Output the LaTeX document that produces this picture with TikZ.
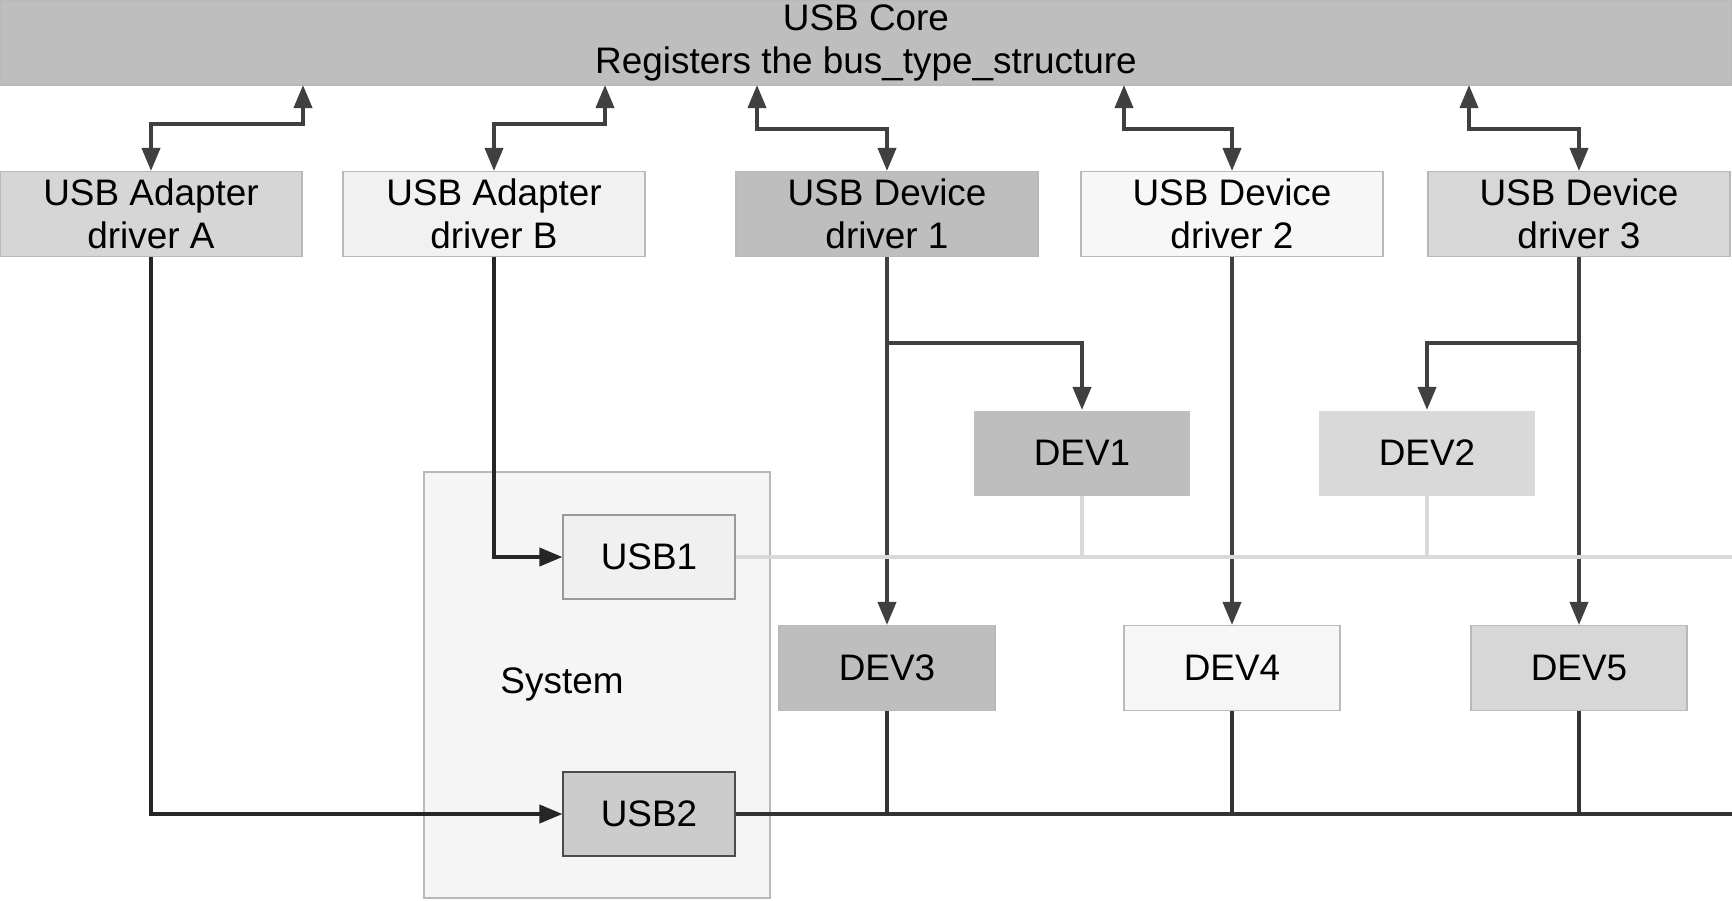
\documentclass[tikz,border=0pt]{standalone}
\usepackage{fontspec}
\setmainfont{Liberation Sans}
\usetikzlibrary{arrows.meta}

\definecolor{coregray}{HTML}{BEBEBE}
\definecolor{linkgray}{HTML}{404040}
\definecolor{busgray}{HTML}{D9D9D9}

\tikzstyle{box}=[draw=gray!55, line width=0.3pt, inner sep=0pt, align=center, font=\fontsize{10.5}{12.2}\selectfont]
\tikzstyle{drv}=[box, minimum width=3.02cm, minimum height=0.85cm]
\tikzstyle{dev}=[box, minimum width=2.16cm, minimum height=0.85cm]
\tikzstyle{port}=[box, minimum width=1.72cm, minimum height=0.84cm]
\tikzstyle{link}=[draw=linkgray, line width=1.1pt, -{Triangle[length=2.3mm,width=1.8mm]}]
\tikzstyle{dlink}=[link, {Triangle[length=2.3mm,width=1.8mm]}-{Triangle[length=2.3mm,width=1.8mm]}]
\tikzstyle{lightbus}=[draw=busgray, line width=1.2pt]
\tikzstyle{darkbus}=[draw=black!80, line width=1.2pt]

\begin{document}
\begin{tikzpicture}

\useasboundingbox (0,0) rectangle (17.32,-9.00);

% system box first, it stays behind
\node[box, fill=gray!8, minimum width=3.46cm, minimum height=4.26cm] (sys) at (5.97,-6.85) {};
\node[font=\fontsize{10.5}{12.2}\selectfont] (systxt) at (5.62,-6.84) {System};

\node[box, fill=coregray, minimum width=17.32cm, minimum height=0.85cm] (core) at (8.66,-0.425) {USB Core\\Registers the bus\_type\_structure};

\node[drv, fill=gray!32] (drvA) at (1.51,-2.14) {USB Adapter\\driver A};
\node[drv, fill=gray!11] (drvB) at (4.94,-2.14) {USB Adapter\\driver B};
\node[drv, fill=coregray] (drv1) at (8.87,-2.14) {USB Device\\driver 1};
\node[drv, fill=gray!6] (drv2) at (12.32,-2.14) {USB Device\\driver 2};
\node[drv, fill=gray!31] (drv3) at (15.79,-2.14) {USB Device\\driver 3};

\node[port, fill=gray!12, draw=gray!80] (usb1) at (6.49,-5.57) {USB1};
\node[port, fill=gray!40, draw=black!70] (usb2) at (6.49,-8.14) {USB2};

\node[dev, fill=coregray, draw=none] (dev1) at (10.82,-4.53) {DEV1};
\node[dev, fill=gray!30, draw=none] (dev2) at (14.27,-4.53) {DEV2};
\node[dev, fill=coregray] (dev3) at (8.87,-6.68) {DEV3};
\node[dev, fill=gray!7] (dev4) at (12.32,-6.68) {DEV4};
\node[dev, fill=gray!31] (dev5) at (15.79,-6.68) {DEV5};

% core <-> drivers
\coordinate (cA) at (3.03,-0.85);
\coordinate (cB) at (6.05,-0.85);
\coordinate (c1) at (7.57,-0.85);
\coordinate (c2) at (11.24,-0.85);
\coordinate (c3) at (14.69,-0.85);
\draw[dlink] (cA) -- ++(0,-0.39) -| (drvA.north);
\draw[dlink] (cB) -- ++(0,-0.39) -| (drvB.north);
\draw[dlink] (c1) -- ++(0,-0.44) -| (drv1.north);
\draw[dlink] (c2) -- ++(0,-0.44) -| (drv2.north);
\draw[dlink] (c3) -- ++(0,-0.44) -| (drv3.north);

% adapters to ports
\draw[link, draw=black!85] (drvA.south) |- (usb2.west);
\draw[link, draw=black!85] (drvB.south) |- (usb1.west);

% device drivers to devices
\draw[link] (drv1.south) -- (dev3.north);
\draw[link] (drv1.south) ++(0,-0.86) -| (dev1.north);
\draw[link] (drv2.south) -- (dev4.north);
\draw[link] (drv3.south) -- (dev5.north);
\draw[link] (drv3.south) ++(0,-0.86) -| (dev2.north);

% the two buses
\coordinate (end1) at (17.32,-5.57);
\coordinate (end2) at (17.32,-8.14);
\draw[lightbus] (usb1.east) -- (end1);
\draw[lightbus] (dev1.south) -- (dev1.south |- usb1.east);
\draw[lightbus] (dev2.south) -- (dev2.south |- usb1.east);
\draw[darkbus] (usb2.east) -- (end2);
\foreach \d in {dev3,dev4,dev5}
  \draw[darkbus, line width=1pt] (\d.south) -- (\d.south |- usb2.east);

\end{tikzpicture}
\end{document}
